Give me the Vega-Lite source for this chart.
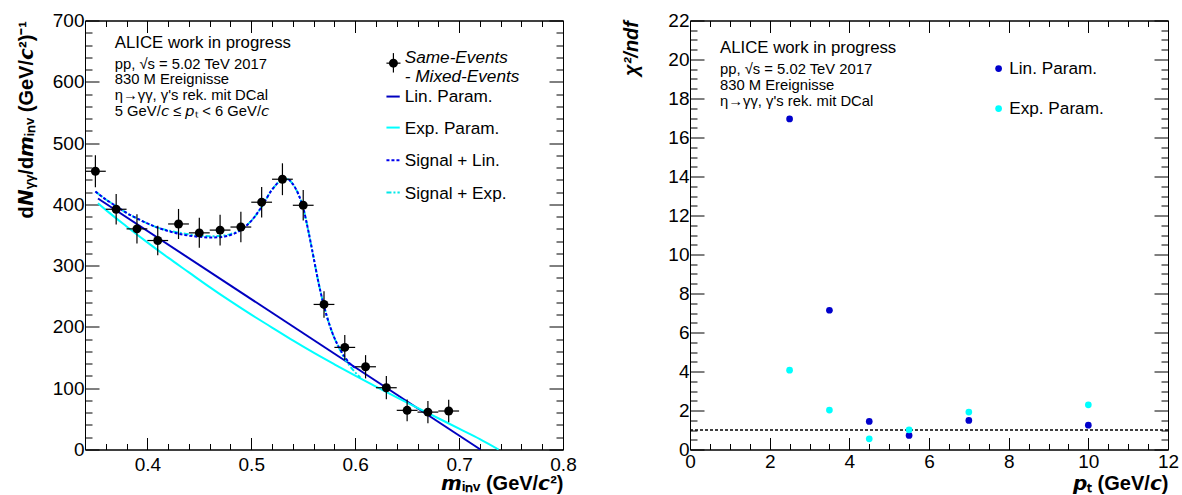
{
  "$schema": "https://vega.github.io/schema/vega-lite/v6.json",
  "background": "white",
  "padding": {"left": 15, "top": 10.5, "right": 5, "bottom": 0},
  "bounds": "flush",
  "spacing": 127,
  "config": {
    "font": "Liberation Sans",
    "view": {"stroke": "black", "strokeWidth": 1},
    "axis": {
      "grid": false,
      "domainColor": "black",
      "domainWidth": 1,
      "tickColor": "black",
      "tickWidth": 1,
      "labelColor": "black",
      "labelFont": "Liberation Sans",
      "labelFontSize": 19,
      "labelFlush": false,
      "labelOverlap": false,
      "labelBound": false,
      "titleColor": "black",
      "titleFont": "Liberation Sans",
      "titleFontSize": 20,
      "titleFontWeight": "bold"
    },
    "text": {"font": "Liberation Sans", "color": "black"}
  },
  "datasets": {
    "spectrum": [
      {"m": 0.35, "n": 454, "lo": 428, "hi": 480, "mlo": 0.34, "mhi": 0.36},
      {"m": 0.37, "n": 392, "lo": 367, "hi": 417, "mlo": 0.36, "mhi": 0.38},
      {"m": 0.39, "n": 360, "lo": 336, "hi": 384, "mlo": 0.38, "mhi": 0.40},
      {"m": 0.41, "n": 341, "lo": 317, "hi": 365, "mlo": 0.40, "mhi": 0.42},
      {"m": 0.43, "n": 368, "lo": 343.5, "hi": 392.5, "mlo": 0.42, "mhi": 0.44},
      {"m": 0.45, "n": 353.5, "lo": 329, "hi": 378, "mlo": 0.44, "mhi": 0.46},
      {"m": 0.47, "n": 358, "lo": 333, "hi": 383, "mlo": 0.46, "mhi": 0.48},
      {"m": 0.49, "n": 363, "lo": 338, "hi": 388, "mlo": 0.48, "mhi": 0.50},
      {"m": 0.51, "n": 403.5, "lo": 378.5, "hi": 428.5, "mlo": 0.50, "mhi": 0.52},
      {"m": 0.53, "n": 441, "lo": 415, "hi": 467, "mlo": 0.52, "mhi": 0.54},
      {"m": 0.55, "n": 398.5, "lo": 373.5, "hi": 423.5, "mlo": 0.54, "mhi": 0.56},
      {"m": 0.57, "n": 236.7, "lo": 215, "hi": 258.4, "mlo": 0.56, "mhi": 0.58},
      {"m": 0.59, "n": 166.6, "lo": 146.2, "hi": 187, "mlo": 0.58, "mhi": 0.60},
      {"m": 0.61, "n": 135, "lo": 116, "hi": 154, "mlo": 0.60, "mhi": 0.62},
      {"m": 0.63, "n": 100.8, "lo": 81.8, "hi": 119.8, "mlo": 0.62, "mhi": 0.64},
      {"m": 0.65, "n": 63.9, "lo": 46.2, "hi": 81.6, "mlo": 0.64, "mhi": 0.66},
      {"m": 0.67, "n": 61, "lo": 43, "hi": 79, "mlo": 0.66, "mhi": 0.68},
      {"m": 0.69, "n": 62.8, "lo": 44.4, "hi": 81.2, "mlo": 0.68, "mhi": 0.70}
    ],
    "linBackground": [
      {"m": 0.3525, "y": 409.5},
      {"m": 0.7205, "y": 0}
    ],
    "expBackground": [
      {"m": 0.3525, "y": 402},
      {"m": 0.36, "y": 391},
      {"m": 0.38, "y": 364},
      {"m": 0.40, "y": 338},
      {"m": 0.42, "y": 313},
      {"m": 0.44, "y": 289},
      {"m": 0.46, "y": 265},
      {"m": 0.48, "y": 242},
      {"m": 0.50, "y": 220},
      {"m": 0.52, "y": 199},
      {"m": 0.54, "y": 178},
      {"m": 0.56, "y": 158},
      {"m": 0.58, "y": 139},
      {"m": 0.60, "y": 120.5},
      {"m": 0.62, "y": 102.5},
      {"m": 0.64, "y": 85},
      {"m": 0.66, "y": 68},
      {"m": 0.68, "y": 51},
      {"m": 0.70, "y": 34},
      {"m": 0.72, "y": 17},
      {"m": 0.738, "y": 0}
    ],
    "signalLin": [
      {"m": 0.35, "y": 421},
      {"m": 0.36, "y": 408},
      {"m": 0.37, "y": 397},
      {"m": 0.38, "y": 386},
      {"m": 0.39, "y": 377},
      {"m": 0.40, "y": 369},
      {"m": 0.41, "y": 362},
      {"m": 0.42, "y": 356.5},
      {"m": 0.43, "y": 352},
      {"m": 0.44, "y": 349},
      {"m": 0.45, "y": 347},
      {"m": 0.46, "y": 346},
      {"m": 0.47, "y": 346.5},
      {"m": 0.48, "y": 350},
      {"m": 0.49, "y": 358},
      {"m": 0.50, "y": 373},
      {"m": 0.51, "y": 396},
      {"m": 0.52, "y": 424},
      {"m": 0.53, "y": 440},
      {"m": 0.535, "y": 441},
      {"m": 0.54, "y": 433},
      {"m": 0.545, "y": 418},
      {"m": 0.55, "y": 394},
      {"m": 0.555, "y": 356},
      {"m": 0.56, "y": 313},
      {"m": 0.565, "y": 270},
      {"m": 0.57, "y": 234},
      {"m": 0.575, "y": 205},
      {"m": 0.58, "y": 182},
      {"m": 0.585, "y": 165},
      {"m": 0.59, "y": 151},
      {"m": 0.595, "y": 140},
      {"m": 0.60, "y": 133.5}
    ],
    "signalExp": [
      {"m": 0.35, "y": 421},
      {"m": 0.36, "y": 408},
      {"m": 0.37, "y": 397},
      {"m": 0.38, "y": 386},
      {"m": 0.39, "y": 377},
      {"m": 0.40, "y": 369},
      {"m": 0.41, "y": 362},
      {"m": 0.42, "y": 357.5},
      {"m": 0.43, "y": 354},
      {"m": 0.44, "y": 351},
      {"m": 0.45, "y": 349},
      {"m": 0.46, "y": 348},
      {"m": 0.47, "y": 348.5},
      {"m": 0.48, "y": 351.5},
      {"m": 0.49, "y": 359},
      {"m": 0.50, "y": 373},
      {"m": 0.51, "y": 396},
      {"m": 0.52, "y": 424},
      {"m": 0.53, "y": 440},
      {"m": 0.535, "y": 441},
      {"m": 0.54, "y": 433},
      {"m": 0.545, "y": 418},
      {"m": 0.55, "y": 394},
      {"m": 0.555, "y": 356},
      {"m": 0.56, "y": 313},
      {"m": 0.565, "y": 270},
      {"m": 0.57, "y": 234},
      {"m": 0.575, "y": 205},
      {"m": 0.58, "y": 182},
      {"m": 0.585, "y": 164},
      {"m": 0.59, "y": 148},
      {"m": 0.595, "y": 136},
      {"m": 0.60, "y": 126},
      {"m": 0.605, "y": 117}
    ],
    "chi2": [
      {"pt": 2.5, "chi2ndf": 16.95, "param": "Lin. Param."},
      {"pt": 3.5, "chi2ndf": 7.14, "param": "Lin. Param."},
      {"pt": 4.5, "chi2ndf": 1.44, "param": "Lin. Param."},
      {"pt": 5.5, "chi2ndf": 0.72, "param": "Lin. Param."},
      {"pt": 7.0, "chi2ndf": 1.49, "param": "Lin. Param."},
      {"pt": 10.0, "chi2ndf": 1.25, "param": "Lin. Param."},
      {"pt": 2.5, "chi2ndf": 4.07, "param": "Exp. Param."},
      {"pt": 3.5, "chi2ndf": 2.02, "param": "Exp. Param."},
      {"pt": 4.5, "chi2ndf": 0.55, "param": "Exp. Param."},
      {"pt": 5.5, "chi2ndf": 1.01, "param": "Exp. Param."},
      {"pt": 7.0, "chi2ndf": 1.92, "param": "Exp. Param."},
      {"pt": 10.0, "chi2ndf": 2.29, "param": "Exp. Param."}
    ]
  },
  "hconcat": [
    {
      "width": 478,
      "height": 429,
      "resolve": {"axis": {"x": "independent", "y": "independent"}},
      "layer": [
        {
          "data": {"name": "linBackground"},
          "mark": {"type": "line", "color": "#0000c0", "strokeWidth": 2},
          "encoding": {
            "x": {"field": "m", "type": "quantitative",
              "scale": {"domain": [0.34, 0.8], "nice": false, "zero": false},
              "axis": {"orient": "top", "labels": false, "title": null, "tickSize": -12,
                "values": [0.34,0.36,0.38,0.4,0.42,0.44,0.46,0.48,0.5,0.52,0.54,0.56,0.58,0.6,0.62,0.64,0.66,0.68,0.7,0.72,0.74,0.76,0.78,0.8],
                "tickDash": {"condition": {"test": "abs(datum.value*10 - round(datum.value*10)) < 0.001", "value": [20, 100]}, "value": [6, 100]}}},
            "y": {"field": "y", "type": "quantitative",
              "scale": {"domain": [0, 700], "nice": false, "zero": false},
              "axis": {"orient": "right", "labels": false, "title": null, "tickSize": -14,
                "values": [0,20,40,60,80,100,120,140,160,180,200,220,240,260,280,300,320,340,360,380,400,420,440,460,480,500,520,540,560,580,600,620,640,660,680,700],
                "tickDash": {"condition": {"test": "datum.value % 100 == 0", "value": [20, 100]}, "value": [7, 100]}}}
          }
        },
        {
          "data": {"name": "expBackground"},
          "mark": {"type": "line", "color": "#00ffff", "strokeWidth": 2, "interpolate": "monotone"},
          "encoding": {
            "x": {"field": "m", "type": "quantitative", "axis": null},
            "y": {"field": "y", "type": "quantitative", "axis": null}
          }
        },
        {
          "data": {"name": "signalExp"},
          "mark": {"type": "line", "color": "#00e8e8", "strokeWidth": 2, "strokeDash": [5, 2, 2, 2], "interpolate": "monotone"},
          "encoding": {
            "x": {"field": "m", "type": "quantitative", "axis": null},
            "y": {"field": "y", "type": "quantitative", "axis": null}
          }
        },
        {
          "data": {"name": "signalLin"},
          "mark": {"type": "line", "color": "#0000ee", "strokeWidth": 2, "strokeDash": [3, 2], "interpolate": "monotone"},
          "encoding": {
            "x": {"field": "m", "type": "quantitative", "axis": null},
            "y": {"field": "y", "type": "quantitative", "axis": null}
          }
        },
        {
          "data": {"name": "spectrum"},
          "mark": {"type": "rule", "color": "black", "strokeWidth": 1.2},
          "encoding": {
            "x": {"field": "m", "type": "quantitative", "axis": null},
            "y": {"field": "lo", "type": "quantitative", "axis": null},
            "y2": {"field": "hi"}
          }
        },
        {
          "data": {"name": "spectrum"},
          "mark": {"type": "rule", "color": "black", "strokeWidth": 1.2},
          "encoding": {
            "x": {"field": "mlo", "type": "quantitative", "axis": null},
            "x2": {"field": "mhi"},
            "y": {"field": "n", "type": "quantitative", "axis": null}
          }
        },
        {
          "data": {"name": "spectrum"},
          "mark": {"type": "point", "shape": "circle", "filled": true, "color": "black", "opacity": 1, "size": 80},
          "encoding": {
            "x": {"field": "m", "type": "quantitative",
              "scale": {"domain": [0.34, 0.8], "nice": false, "zero": false},
              "axis": {"orient": "bottom", "tickSize": -12, "labelPadding": 17.5,
                "values": [0.34,0.36,0.38,0.4,0.42,0.44,0.46,0.48,0.5,0.52,0.54,0.56,0.58,0.6,0.62,0.64,0.66,0.68,0.7,0.72,0.74,0.76,0.78,0.8],
                "tickDash": {"condition": {"test": "abs(datum.value*10 - round(datum.value*10)) < 0.001", "value": [20, 100]}, "value": [6, 100]},
                "labelExpr": "abs(datum.value*10 - round(datum.value*10)) < 0.001 ? format(datum.value, '.1f') : ''",
                "title": "\uD835\uDE62\u1D62\u2099\u1D65 (GeV/\uD835\uDE58\u00B2)",
                "titleX": 478, "titleY": 39.5, "titleAlign": "right", "titleBaseline": "alphabetic", "titleAngle": 0}},
            "y": {"field": "n", "type": "quantitative",
              "scale": {"domain": [0, 700], "nice": false, "zero": false},
              "axis": {"orient": "left", "tickSize": -14, "labelPadding": 15,
                "values": [0,20,40,60,80,100,120,140,160,180,200,220,240,260,280,300,320,340,360,380,400,420,440,460,480,500,520,540,560,580,600,620,640,660,680,700],
                "tickDash": {"condition": {"test": "datum.value % 100 == 0", "value": [20, 100]}, "value": [7, 100]},
                "labelExpr": "datum.value % 100 == 0 ? format(datum.value, 'd') : ''",
                "title": "d\uD835\uDE49\u1D67\u1D67/d\uD835\uDE62\u1D62\u2099\u1D65 (GeV/\uD835\uDE58\u00B2)\u207B\u00B9",
                "titleX": -53, "titleY": 0, "titleAlign": "right", "titleBaseline": "alphabetic", "titleAngle": 270}}
          }
        },
        {
          "data": {"values": [{}]},
          "mark": {"type": "text", "align": "left", "baseline": "alphabetic", "fontSize": 16.8},
          "encoding": {
            "x": {"datum": 0.3686, "type": "quantitative", "axis": null},
            "y": {"datum": 654.9, "type": "quantitative", "axis": null},
            "text": {"value": "ALICE work in progress"}
          }
        },
        {
          "data": {"values": [{}]},
          "mark": {"type": "text", "align": "left", "baseline": "alphabetic", "fontSize": 14.8, "lineHeight": 15.8},
          "encoding": {
            "x": {"datum": 0.3686, "type": "quantitative", "axis": null},
            "y": {"datum": 621.6, "type": "quantitative", "axis": null},
            "text": {"value": ["pp, \u221As = 5.02 TeV 2017", "830 M Ereignisse", "\u03B7\u2192\u03B3\u03B3, \u03B3's rek. mit DCal", "5 GeV/\uD835\uDE24 \u2264 \uD835\uDE31\u209C < 6  GeV/\uD835\uDE24"]}
          }
        },
        {
          "data": {"values": [{}]},
          "mark": {"type": "rule", "color": "black", "strokeWidth": 1.2},
          "encoding": {
            "x": {"datum": 0.6301, "type": "quantitative", "axis": null},
            "x2": {"datum": 0.6436},
            "y": {"datum": 630.4, "type": "quantitative", "axis": null}
          }
        },
        {
          "data": {"values": [{}]},
          "mark": {"type": "rule", "color": "black", "strokeWidth": 1.2},
          "encoding": {
            "x": {"datum": 0.6368, "type": "quantitative", "axis": null},
            "y": {"datum": 615.1, "type": "quantitative", "axis": null},
            "y2": {"datum": 646.8}
          }
        },
        {
          "data": {"values": [{}]},
          "mark": {"type": "point", "shape": "circle", "filled": true, "color": "black", "opacity": 1, "size": 80},
          "encoding": {
            "x": {"datum": 0.6368, "type": "quantitative", "axis": null},
            "y": {"datum": 630.4, "type": "quantitative", "axis": null}
          }
        },
        {
          "data": {"values": [{}]},
          "mark": {"type": "text", "align": "left", "baseline": "alphabetic", "fontSize": 17.2, "fontStyle": "italic", "lineHeight": 19},
          "encoding": {
            "x": {"datum": 0.6477, "type": "quantitative", "axis": null},
            "y": {"datum": 631.4, "type": "quantitative", "axis": null},
            "text": {"value": ["Same-Events", "- Mixed-Events"]}
          }
        },
        {
          "data": {"values": [{}]},
          "mark": {"type": "rule", "color": "#0000c0", "strokeWidth": 2},
          "encoding": {
            "x": {"datum": 0.6301, "type": "quantitative", "axis": null},
            "x2": {"datum": 0.6429},
            "y": {"datum": 575.9, "type": "quantitative", "axis": null}
          }
        },
        {
          "data": {"values": [{}]},
          "mark": {"type": "rule", "color": "#00ffff", "strokeWidth": 2},
          "encoding": {
            "x": {"datum": 0.6301, "type": "quantitative", "axis": null},
            "x2": {"datum": 0.6429},
            "y": {"datum": 525.3, "type": "quantitative", "axis": null}
          }
        },
        {
          "data": {"values": [{}]},
          "mark": {"type": "rule", "color": "#0000ee", "strokeWidth": 2, "strokeDash": [3, 2]},
          "encoding": {
            "x": {"datum": 0.6301, "type": "quantitative", "axis": null},
            "x2": {"datum": 0.6429},
            "y": {"datum": 472.1, "type": "quantitative", "axis": null}
          }
        },
        {
          "data": {"values": [{}]},
          "mark": {"type": "rule", "color": "#00e8e8", "strokeWidth": 2, "strokeDash": [5, 2, 2, 2]},
          "encoding": {
            "x": {"datum": 0.6301, "type": "quantitative", "axis": null},
            "x2": {"datum": 0.6429},
            "y": {"datum": 419.2, "type": "quantitative", "axis": null}
          }
        },
        {
          "data": {"values": [{}]},
          "mark": {"type": "text", "align": "left", "baseline": "alphabetic", "fontSize": 17.2, "lineHeight": 32.4},
          "encoding": {
            "x": {"datum": 0.6477, "type": "quantitative", "axis": null},
            "y": {"datum": 567.7, "type": "quantitative", "axis": null},
            "text": {"value": ["Lin. Param.", "Exp. Param.", "Signal + Lin.", "Signal + Exp."]}
          }
        }
      ]
    },
    {
      "width": 478,
      "height": 429,
      "resolve": {"axis": {"x": "independent", "y": "independent"}},
      "layer": [
        {
          "data": {"values": [{}]},
          "mark": {"type": "rule", "color": "black", "strokeWidth": 1.5, "strokeDash": [3, 2]},
          "encoding": {
            "y": {"datum": 1, "type": "quantitative", "axis": null}
          }
        },
        {
          "data": {"name": "chi2"},
          "mark": {"type": "point", "shape": "circle", "filled": true, "opacity": 1, "size": 45},
          "encoding": {
            "x": {"field": "pt", "type": "quantitative",
              "scale": {"domain": [0, 12], "nice": false, "zero": false},
              "axis": {"orient": "bottom", "tickSize": -12, "labelPadding": 15,
                "values": [0,0.5,1,1.5,2,2.5,3,3.5,4,4.5,5,5.5,6,6.5,7,7.5,8,8.5,9,9.5,10,10.5,11,11.5,12],
                "tickDash": {"condition": {"test": "datum.value % 2 == 0", "value": [20, 100]}, "value": [6, 100]},
                "labelExpr": "datum.value % 2 == 0 ? format(datum.value, 'd') : ''",
                "title": "\uD835\uDE65\u209C (GeV/\uD835\uDE58)",
                "titleX": 478, "titleY": 39.5, "titleAlign": "right", "titleBaseline": "alphabetic", "titleAngle": 0}},
            "y": {"field": "chi2ndf", "type": "quantitative",
              "scale": {"domain": [0, 22], "nice": false, "zero": false},
              "axis": {"orient": "left", "tickSize": -14, "labelPadding": 15,
                "values": [0,0.5,1,1.5,2,2.5,3,3.5,4,4.5,5,5.5,6,6.5,7,7.5,8,8.5,9,9.5,10,10.5,11,11.5,12,12.5,13,13.5,14,14.5,15,15.5,16,16.5,17,17.5,18,18.5,19,19.5,20,20.5,21,21.5,22],
                "tickDash": {"condition": {"test": "datum.value % 2 == 0", "value": [20, 100]}, "value": [7, 100]},
                "labelExpr": "datum.value % 2 == 0 ? format(datum.value, 'd') : ''",
                "title": "\u03C7\u00B2/ndf", "titleFontStyle": "italic",
                "titleX": -53, "titleY": 0, "titleAlign": "right", "titleBaseline": "alphabetic", "titleAngle": 270}},
            "color": {"field": "param", "type": "nominal",
              "scale": {"domain": ["Lin. Param.", "Exp. Param."], "range": ["#0000cc", "#00ffff"]},
              "legend": {"orient": "none", "legendX": 905, "legendY": 39.5, "title": null,
                "labelFont": "Liberation Sans", "labelFontSize": 17.2, "labelColor": "black",
                "symbolType": "circle", "symbolSize": 45, "symbolStrokeWidth": 0,
                "rowPadding": 22, "labelOffset": 2, "padding": 0}}
          }
        },
        {
          "data": {"values": [{}]},
          "mark": {"type": "text", "align": "left", "baseline": "alphabetic", "fontSize": 16.8},
          "encoding": {
            "x": {"datum": 0.753, "type": "quantitative",
              "axis": {"orient": "top", "labels": false, "title": null, "tickSize": -12,
                "values": [0,0.5,1,1.5,2,2.5,3,3.5,4,4.5,5,5.5,6,6.5,7,7.5,8,8.5,9,9.5,10,10.5,11,11.5,12],
                "tickDash": {"condition": {"test": "datum.value % 2 == 0", "value": [20, 100]}, "value": [6, 100]}}},
            "y": {"datum": 20.32, "type": "quantitative",
              "axis": {"orient": "right", "labels": false, "title": null, "tickSize": -14,
                "values": [0,0.5,1,1.5,2,2.5,3,3.5,4,4.5,5,5.5,6,6.5,7,7.5,8,8.5,9,9.5,10,10.5,11,11.5,12,12.5,13,13.5,14,14.5,15,15.5,16,16.5,17,17.5,18,18.5,19,19.5,20,20.5,21,21.5,22],
                "tickDash": {"condition": {"test": "datum.value % 2 == 0", "value": [20, 100]}, "value": [7, 100]}}},
            "text": {"value": "ALICE work in progress"}
          }
        },
        {
          "data": {"values": [{}]},
          "mark": {"type": "text", "align": "left", "baseline": "alphabetic", "fontSize": 14.8, "lineHeight": 15.8},
          "encoding": {
            "x": {"datum": 0.753, "type": "quantitative", "axis": null},
            "y": {"datum": 19.26, "type": "quantitative", "axis": null},
            "text": {"value": ["pp, \u221As = 5.02 TeV 2017", "830 M Ereignisse", "\u03B7\u2192\u03B3\u03B3, \u03B3's rek. mit DCal"]}
          }
        }
      ]
    }
  ]
}
